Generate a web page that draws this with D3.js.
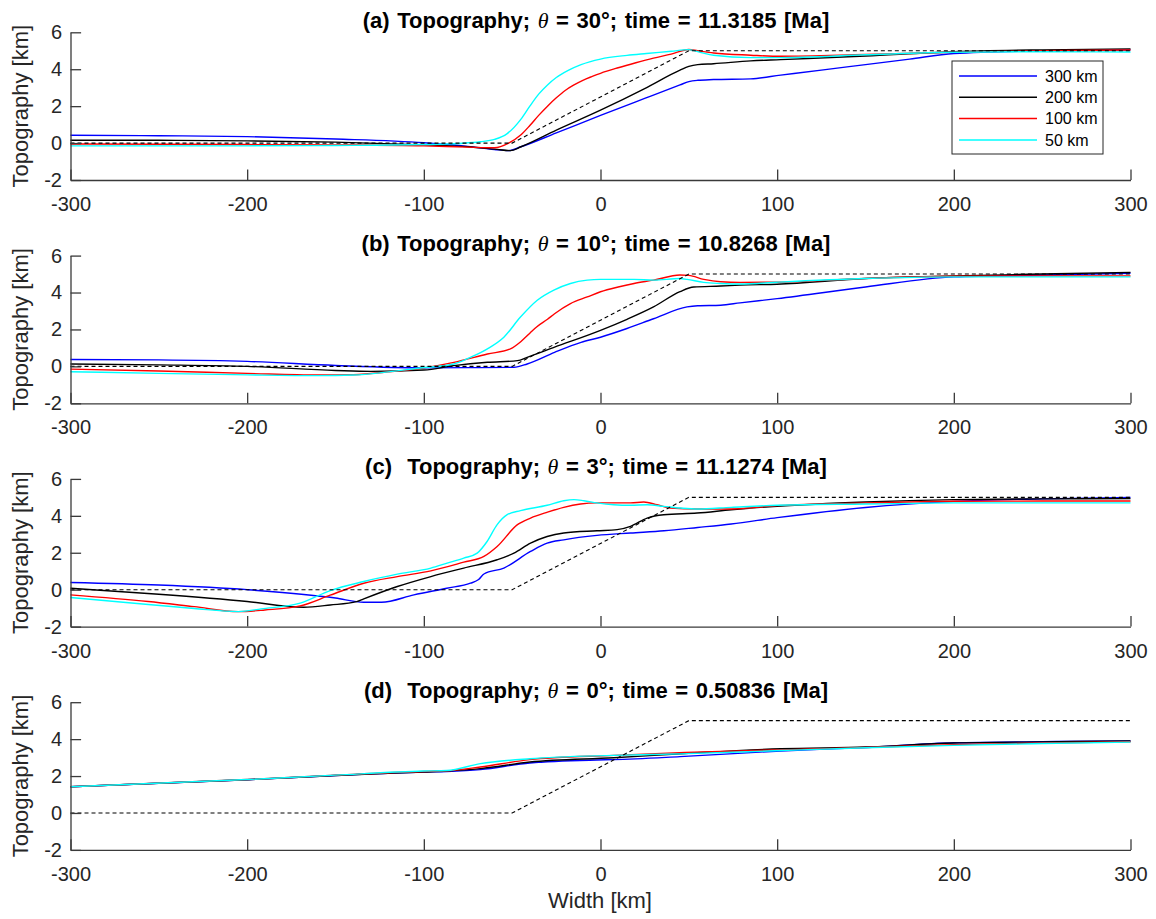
<!DOCTYPE html>
<html>
<head>
<meta charset="utf-8">
<script src="https://cdn.jsdelivr.net/npm/d3@7"></script>
<style>
  html, body { margin: 0; padding: 0; background: #fff; }
  svg { display: block; }
  text { font-family: "Liberation Sans", Arial, Helvetica, sans-serif; fill: #262626; }
</style>
</head>
<body>
<svg id="chart" width="1156" height="919"></svg>
<script>
// ---------------- data ----------------
const xTicks = [-300, -200, -100, 0, 100, 200, 300];
const yTicks = [-2, 0, 2, 4, 6];
const seriesNames = ["300 km", "200 km", "100 km", "50 km"];
const seriesColors = ["#0000ff", "#000000", "#ff0000", "#00ffff"];

const panelLabels = ["(a) ", "(b) ", "(c)  ", "(d)  "];
const thetaValues = ["30", "10", "3", "0"];
const timeValues = ["11.3185", "10.8268", "11.1274", "0.50836"];

// initial topography (dashed)
const initX = [-300, -50, 50, 300];
const initY = [0, 0, 5, 5];

// Panel (a) theta = 30
const a300x = [-300,-250,-200,-150,-100,-75,-60,-52,-45,-25,0,25,45,50,55,64,85,102,125,150,175,200,250,300];
const a300y = [0.42,0.40,0.35,0.22,0.02,-0.18,-0.35,-0.41,-0.20,0.55,1.50,2.42,3.15,3.33,3.40,3.44,3.48,3.68,3.95,4.25,4.55,4.85,5.00,5.05];
const a200x = [-300,-250,-200,-150,-100,-75,-60,-51,-45,-25,0,25,45,50,55,64,85,102,150,200,250,300];
const a200y = [0.15,0.15,0.12,0.05,-0.10,-0.20,-0.33,-0.41,-0.20,0.70,1.78,2.95,3.95,4.15,4.25,4.30,4.45,4.52,4.72,4.95,5.05,5.10];
const a100x = [-300,-200,-150,-100,-75,-60,-52,-45,-40,-35,-30,-25,-20,-15,-10,-5,0,10,20,30,40,50,55,64,85,102,150,200,250,300];
const a100y = [-0.05,-0.08,-0.10,-0.15,-0.22,-0.25,0.00,0.45,0.95,1.50,2.00,2.45,2.85,3.15,3.40,3.60,3.78,4.08,4.35,4.60,4.82,5.07,5.00,4.88,4.76,4.70,4.80,4.92,5.00,5.04];
const a50x = [-300,-200,-150,-100,-80,-68,-60,-53,-45,-40,-35,-30,-25,-18,-11,0,15,26,40,50,57,64,85,102,150,200,250,300];
const a50y = [-0.15,-0.15,-0.13,-0.08,-0.02,0.07,0.20,0.50,1.30,2.00,2.65,3.15,3.55,3.95,4.25,4.55,4.75,4.85,4.97,5.06,4.90,4.76,4.63,4.63,4.78,4.92,4.95,4.93];

// Panel (b) theta = 10
const b300x = [-300,-250,-200,-150,-100,-75,-49,-41.5,-26,-11,0,15,30,49,55,68,79,100,150,200,250,300];
const b300y = [0.37,0.35,0.27,0.05,-0.08,-0.07,-0.05,0.13,0.76,1.30,1.58,2.05,2.58,3.22,3.28,3.31,3.44,3.67,4.30,4.85,4.95,5.04];
const b200x = [-300,-250,-200,-150,-130,-100,-83,-64,-47,-41.5,-26,0,15,30,45,52.8,68,79,100,150,200,250,300];
const b200y = [0.13,0.08,0.00,-0.22,-0.27,-0.20,0.04,0.22,0.31,0.49,1.04,1.95,2.55,3.22,4.05,4.30,4.35,4.40,4.45,4.76,4.90,5.00,5.09];
const b100x = [-300,-250,-200,-160,-140,-120,-100,-83,-64,-51,-45,-40,-36,-30,-26,-17,-7.5,0,10,19,30,45,50,58.5,68,79,100,150,200,250,300];
const b100y = [-0.15,-0.25,-0.38,-0.47,-0.45,-0.30,-0.08,0.22,0.67,0.95,1.35,1.80,2.15,2.55,2.85,3.40,3.76,4.04,4.30,4.49,4.67,4.95,4.93,4.71,4.58,4.55,4.56,4.76,4.88,4.90,4.90];
const b50x = [-300,-250,-200,-160,-140,-120,-102,-83,-73.6,-64,-54.7,-45.3,-35.8,-26.4,-17,-7.5,0,19,30,45,49,58.5,68,79,100,150,200,250,300];
const b50y = [-0.29,-0.38,-0.46,-0.50,-0.47,-0.30,-0.09,0.13,0.49,0.95,1.58,2.67,3.58,4.13,4.49,4.67,4.71,4.71,4.67,4.76,4.71,4.55,4.49,4.46,4.56,4.76,4.85,4.85,4.85];

// Panel (c) theta = 3
const c300x = [-300,-250,-200,-150,-134,-124,-105.6,-87,-73.6,-69,-66,-54.7,-39.6,-30.2,-20.8,-2,17,36,55,74,100,150,200,250,300];
const c300y = [0.39,0.25,0.00,-0.45,-0.68,-0.68,-0.28,0.08,0.35,0.55,0.85,1.17,2.07,2.52,2.70,2.94,3.07,3.19,3.37,3.56,3.90,4.45,4.78,4.92,5.00];
const c200x = [-300,-250,-200,-168,-153,-138,-134,-115,-96,-77.4,-58.5,-49,-39.6,-30.2,-20.8,-2,9.4,17,26.4,35.8,54.7,74,100,150,200,250,300];
const c200y = [0.08,-0.25,-0.64,-0.95,-0.83,-0.65,-0.50,0.17,0.71,1.17,1.62,1.98,2.52,2.88,3.07,3.19,3.25,3.43,3.88,4.06,4.15,4.33,4.52,4.75,4.88,4.92,4.93];
const c100x = [-300,-256,-230,-205,-190,-170,-153,-134,-115,-96,-77.4,-66,-58.5,-47,-39.6,-30,-20.8,-11.3,-2,17,24.5,32,39.6,54.7,74,100,150,200,250,300];
const c100y = [-0.28,-0.64,-0.92,-1.19,-1.10,-0.88,-0.30,0.35,0.71,1.02,1.49,1.80,2.34,3.52,3.88,4.20,4.46,4.64,4.70,4.70,4.75,4.60,4.42,4.37,4.37,4.55,4.70,4.79,4.80,4.80];
const c50x = [-300,-256,-230,-205,-192,-170,-153,-134,-115,-96,-86.8,-77.4,-69.8,-64.2,-58.5,-52.8,-45.3,-30.2,-20.8,-15,-9.4,-2,7.5,17,26.4,35.8,45.3,54.7,74,100,150,200,250,300];
const c50y = [-0.42,-0.80,-1.02,-1.19,-1.04,-0.73,-0.05,0.44,0.84,1.17,1.44,1.71,1.98,2.61,3.52,4.06,4.28,4.57,4.82,4.88,4.82,4.70,4.60,4.57,4.60,4.51,4.42,4.37,4.46,4.57,4.64,4.70,4.70,4.70];

// Panel (d) theta = 0
const d300x = [-300,-200,-150,-100,-87,-68,-40,-2,7.5,45,102,150,200,250,300];
const d300y = [1.42,1.80,2.03,2.22,2.25,2.35,2.71,2.87,2.89,3.05,3.36,3.55,3.80,3.86,3.90];
const d200x = [-300,-200,-150,-100,-87,-68,-40,7.5,48,102,150,200,250,300];
const d200y = [1.42,1.80,2.03,2.22,2.27,2.40,2.76,2.99,3.22,3.48,3.57,3.79,3.85,3.90];
const d100x = [-300,-200,-150,-100,-87,-68,-40,7.5,48,102,150,200,250,300];
const d100y = [1.42,1.81,2.05,2.25,2.28,2.49,2.89,3.12,3.28,3.42,3.55,3.70,3.79,3.86];
const d50x = [-300,-200,-150,-100,-87,-68,-40,7.5,45,102,150,200,250,300];
const d50y = [1.42,1.81,2.05,2.27,2.30,2.67,2.94,3.12,3.20,3.38,3.53,3.66,3.76,3.84];

const panelSeries = [
  [[a300x, a300y], [a200x, a200y], [a100x, a100y], [a50x, a50y]],
  [[b300x, b300y], [b200x, b200y], [b100x, b100y], [b50x, b50y]],
  [[c300x, c300y], [c200x, c200y], [c100x, c100y], [c50x, c50y]],
  [[d300x, d300y], [d200x, d200y], [d100x, d100y], [d50x, d50y]]
];

// ---------------- layout ----------------
const svg = d3.select("#chart");
const plotLeft = 70.5, plotRight = 1130.5;
const panelTop0 = 32.3, panelPitch = 223.3, panelHeight = 147.7;
const axisColor = "#262626";

const x = d3.scaleLinear().domain([-300, 300]).range([plotLeft, plotRight]);

const zip = (xs, ys) => xs.map((v, i) => [v, ys[i]]);
const plainFormat = d => String(d);

panelSeries.forEach((series, p) => {
  const top = panelTop0 + p * panelPitch;
  const bottom = top + panelHeight;
  const y = d3.scaleLinear().domain([-2, 6]).range([bottom, top]);
  const g = svg.append("g");

  const line = d3.line().x(d => x(d[0])).y(d => y(d[1])).curve(d3.curveMonotoneX);

  // curves
  series.forEach((s, i) => {
    g.append("path")
      .datum(zip(s[0], s[1]))
      .attr("fill", "none")
      .attr("stroke", seriesColors[i])
      .attr("stroke-width", 1.4)
      .attr("stroke-linejoin", "round")
      .attr("d", line);
  });

  // initial topography dashed
  g.append("path")
    .datum(zip(initX, initY))
    .attr("fill", "none")
    .attr("stroke", "#000")
    .attr("stroke-width", 1.1)
    .attr("stroke-dasharray", "4,3")
    .attr("d", d3.line().x(d => x(d[0])).y(d => y(d[1])));

  // axes
  const xAxis = d3.axisBottom(x).tickValues(xTicks).tickSizeInner(-10.6).tickSizeOuter(0).tickPadding(17)
    .tickFormat(plainFormat);
  const gx = g.append("g").attr("transform", `translate(0,${bottom})`).call(xAxis);
  const yAxis = d3.axisLeft(y).tickValues(yTicks).tickSizeInner(-10.6).tickSizeOuter(0).tickPadding(8.5)
    .tickFormat(plainFormat);
  const gy = g.append("g").attr("transform", `translate(${plotLeft},0)`).call(yAxis);
  [gx, gy].forEach(ax => {
    ax.select(".domain").attr("stroke", "#3a3a3a").attr("stroke-width", 1.3);
    ax.selectAll(".tick line").attr("stroke", "#3a3a3a").attr("stroke-width", 1.3);
    ax.selectAll(".tick text").attr("fill", axisColor)
      .style("font-family", '"Liberation Sans", Arial, sans-serif').style("font-size", "20px");
  });

  // y label
  g.append("text")
    .attr("transform", `translate(28,${(top + bottom) / 2}) rotate(-90)`)
    .attr("text-anchor", "middle")
    .style("font-size", "22px")
    .text("Topography [km]");

  // title
  const t = g.append("text")
    .attr("x", 596).attr("y", top - 4.5)
    .attr("text-anchor", "middle")
    .style("font-size", "22px").style("font-weight", "bold")
    .style("white-space", "pre").style("word-spacing", "1.5px")
    .style("fill", "#000");
  t.append("tspan").text(panelLabels[p] + "Topography; ");
  t.append("tspan").style("font-family", '"Liberation Serif", "Times New Roman", serif')
    .style("font-style", "italic").style("font-weight", "normal").text("\u03B8");
  t.append("tspan").text(" = " + thetaValues[p] + "\u00B0; time = " + timeValues[p] + " [Ma]");

  // legend in first panel
  if (p === 0) {
    const lg = g.append("g");
    lg.append("rect").attr("x", 952).attr("y", 61).attr("width", 151).attr("height", 93)
      .attr("fill", "#fff").attr("stroke", axisColor).attr("stroke-width", 1);
    seriesNames.forEach((name, i) => {
      const ly = 76 + i * 21.3;
      lg.append("line").attr("x1", 959).attr("x2", 1037).attr("y1", ly).attr("y2", ly)
        .attr("stroke", seriesColors[i]).attr("stroke-width", 1.5);
      lg.append("text").attr("x", 1045).attr("y", ly).attr("dy", "0.35em")
        .style("font-size", "16px").style("fill", "#000").text(name);
    });
  }
});

// x label
svg.append("text")
  .attr("x", 600).attr("y", 908)
  .attr("text-anchor", "middle")
  .style("font-size", "22px")
  .text("Width [km]");
</script>
</body>
</html>
